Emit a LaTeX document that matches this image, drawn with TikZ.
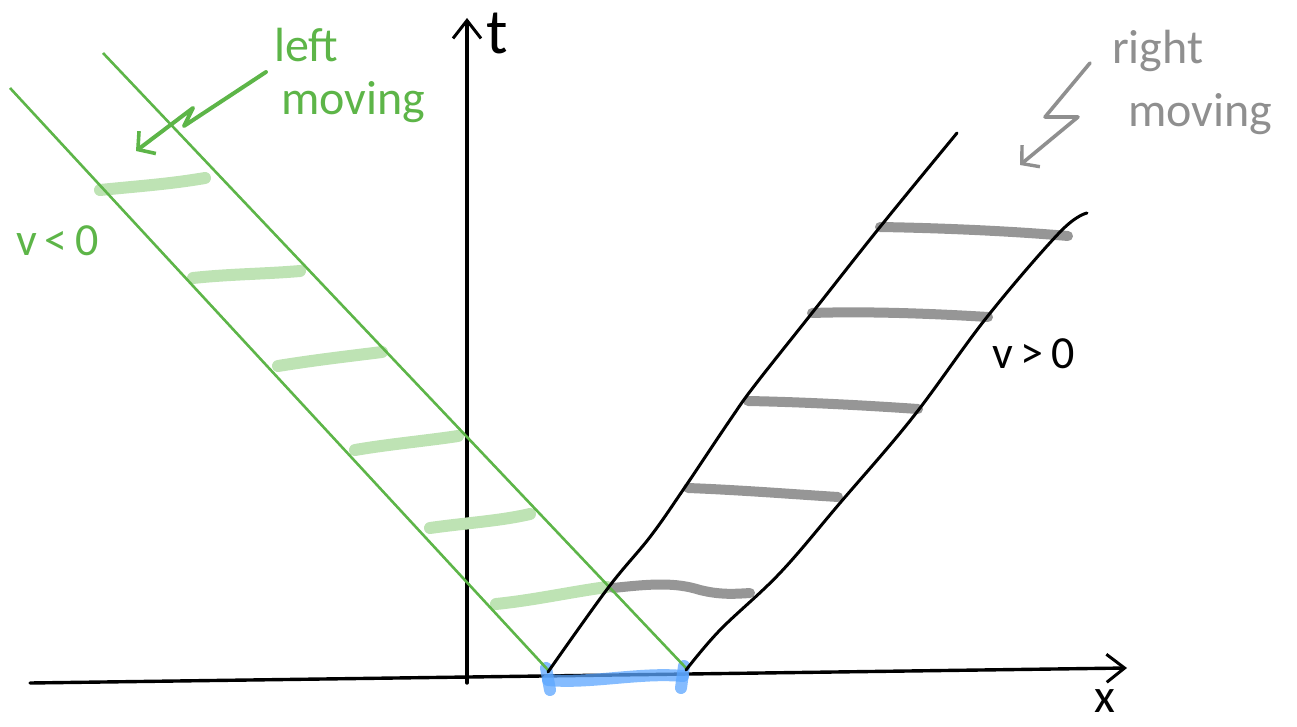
\documentclass[tikz,border=0pt]{standalone}
\usepackage{fontspec}
\setmainfont{Carlito}
\usetikzlibrary{arrows.meta}
\definecolor{pengreen}{RGB}{93,181,72}
\definecolor{hlgreen}{RGB}{190,227,180}
\definecolor{hlgray}{RGB}{150,150,150}
\definecolor{txtgray}{RGB}{143,143,143}
\definecolor{hlblue}{RGB}{92,166,255}
\begin{document}
\begin{tikzpicture}[x=1pt,y=-1pt,
  axisline/.style={line width=3.4pt, line cap=round, -{Straight Barb[length=18pt,width=28pt,line width=3pt]}},
  greenline/.style={pengreen, line width=2.6pt},
  blackline/.style={black, line width=3pt, line cap=round},
  greenhatch/.style={hlgreen, line width=12pt, line cap=round},
  grayhatch/.style={hlgray, line width=10pt, line cap=round},
  greennote/.style={pengreen, line width=4pt, line cap=round, line join=round, -{Straight Barb[length=12pt,width=28pt,line width=3.6pt]}},
  graynote/.style={txtgray, line width=3.6pt, line cap=round, line join=round, -{Straight Barb[length=12pt,width=28pt,line width=3.4pt]}},
  lbl/.style={inner sep=0pt, anchor=base west}
]
\useasboundingbox (0,0) rectangle (1297,727);

% axes
\coordinate (xs) at (30,683);
\coordinate (xe) at (1127,668);
\coordinate (ts) at (467,683);
\coordinate (te) at (467,18);
\draw[axisline] (xs) -- (xe);
\draw[axisline] (ts) -- (te);
\node[lbl, font=\fontsize{64}{70}\selectfont] (tlab) at (486,54) {t};
\node[lbl, font=\fontsize{48}{54}\selectfont] (xlab) at (1094,712) {x};

% initial segment (blue)
\coordinate (b1) at (548,680);
\coordinate (b2) at (683,676);
\draw[hlblue, opacity=0.75, line width=12pt, line cap=round]
  (b1) .. controls (590,684) and (640,672) .. (b2);
\draw[hlblue, opacity=0.75, line width=12pt, line cap=round] (546,668) -- (550,690);
\draw[hlblue, opacity=0.75, line width=12pt, line cap=round] (684,666) -- (681,688);

% green hatching
\draw[greenhatch] (100,190) .. controls (140,186) and (170,184) .. (205,178);
\draw[greenhatch] (193,278) .. controls (230,274) and (265,274) .. (300,271);
\draw[greenhatch] (278,366) .. controls (315,360) and (350,356) .. (382,352);
\draw[greenhatch] (355,450) .. controls (390,444) and (425,441) .. (458,436);
\draw[greenhatch] (430,528) .. controls (465,523) and (500,521) .. (530,514);
\draw[greenhatch] (496,604) .. controls (535,600) and (570,592) .. (607,587);

% gray hatching
\draw[grayhatch] (613,588) .. controls (650,584) and (675,582) .. (700,590) .. controls (720,595) and (735,594) .. (750,593);
\draw[grayhatch] (688,488) .. controls (740,490) and (790,494) .. (838,497);
\draw[grayhatch] (748,401) .. controls (800,402) and (860,405) .. (918,409);
\draw[grayhatch] (812,313) .. controls (870,311) and (940,314) .. (988,317);
\draw[grayhatch] (880,227) .. controls (940,228) and (1010,231) .. (1068,236);

% green characteristic lines (left moving)
\coordinate (g1s) at (10,88);
\coordinate (g1e) at (548,670);
\coordinate (g2s) at (103,53);
\coordinate (g2e) at (686,668);
\draw[greenline] (g1s) -- (g1e);
\draw[greenline] (g2s) -- (g2e);

% black characteristic lines (right moving)
\draw[blackline] plot[smooth, tension=0.6] coordinates {(548,672) (608,588) (650,537) (683,490) (730,420) (755,385) (812,313) (880,227) (957,133)};
\draw[blackline] plot[smooth, tension=0.6] coordinates {(686,670) (720,630) (780,573) (840,503) (913,417) (987,317) (1060,232) (1087,213)};

% annotations
\draw[greennote] (266,72) -- (184,126) -- (193,108) -- (136,151);
\node[lbl, pengreen, font=\fontsize{48}{52}\selectfont] (leftt) at (274,62) {left};
\node[lbl, pengreen, font=\fontsize{48}{52}\selectfont] (movl) at (281,115) {moving};
\node[lbl, pengreen, font=\fontsize{46}{50}\selectfont] (vneg) at (16,255) {v\,<\,0};

\draw[graynote] (1090,63) -- (1045,117) -- (1078,117) -- (1020,165);
\node[lbl, txtgray, font=\fontsize{48}{52}\selectfont] (rightt) at (1112,64) {right};
\node[lbl, txtgray, font=\fontsize{48}{52}\selectfont] (movr) at (1128,127) {moving};
\node[lbl, black, font=\fontsize{46}{50}\selectfont] (vpos) at (992,368) {v\,>\,0};
\end{tikzpicture}
\end{document}
